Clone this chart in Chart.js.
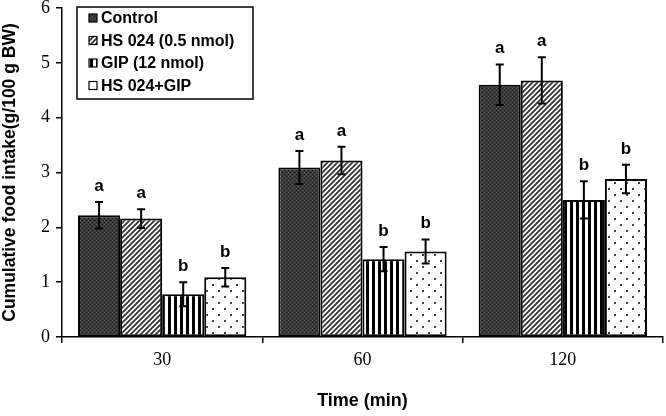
<!DOCTYPE html>
<html>
<head>
<meta charset="utf-8">
<script src="https://cdn.jsdelivr.net/npm/chart.js@4.4.1/dist/chart.umd.min.js"></script>
<style>
  html, body { margin: 0; padding: 0; background: #fff; }
  #wrap { width: 666px; height: 416px; }
</style>
</head>
<body>
<div id="wrap"><canvas id="foodChart" width="666" height="416"></canvas></div>
<script>
// ---------------- data ----------------
var timeLabels = ['30', '60', '120'];
var groupNames = ['Control', 'HS 024 (0.5 nmol)', 'GIP (12 nmol)', 'HS 024+GIP'];

var controlVals = [2.22, 3.09, 4.60];
var hs024Vals   = [2.16, 3.22, 4.68];
var gipVals     = [0.78, 1.42, 2.50];
var comboVals   = [1.09, 1.56, 2.88];

var controlErr = [0.24, 0.30, 0.37];
var hs024Err   = [0.17, 0.25, 0.42];
var gipErr     = [0.22, 0.22, 0.34];
var comboErr   = [0.17, 0.22, 0.26];

var sigLetters = ['a', 'a', 'b', 'b'];

// ---------------- fill patterns ----------------
function makeTile(w, h, draw) {
    var c = document.createElement('canvas');
    c.width = w; c.height = h;
    var g = c.getContext('2d');
    draw(g, w, h);
    return document.getElementById('foodChart').getContext('2d').createPattern(c, 'repeat');
}

var patControl = makeTile(4, 4, function(g) {
    g.fillStyle = '#3a3a3a'; g.fillRect(0, 0, 4, 4);
    g.fillStyle = '#555'; g.fillRect(0, 0, 1, 1); g.fillRect(2, 2, 1, 1);
    g.fillStyle = '#222'; g.fillRect(2, 0, 1, 1); g.fillRect(0, 2, 1, 1);
});

var patHatch = makeTile(5, 5, function(g) {
    g.fillStyle = '#fff'; g.fillRect(0, 0, 5, 5);
    g.strokeStyle = '#333'; g.lineWidth = 1.8;
    g.beginPath();
    g.moveTo(-1, 6); g.lineTo(6, -1);
    g.moveTo(-1, 1); g.lineTo(1, -1);
    g.moveTo(4, 6); g.lineTo(6, 4);
    g.stroke();
});

var patStripes = makeTile(6, 4, function(g) {
    g.fillStyle = '#fff'; g.fillRect(0, 0, 6, 4);
    g.fillStyle = '#000'; g.fillRect(0, 0, 3, 4);
});

var patDots = makeTile(12, 12, function(g) {
    g.fillStyle = '#fff'; g.fillRect(0, 0, 12, 12);
    g.fillStyle = '#444';
    g.fillRect(2, 2, 2, 2);
    g.fillRect(8, 8, 2, 2);
});

var fills = [patControl, patHatch, patStripes, patDots];
var allVals = [controlVals, hs024Vals, gipVals, comboVals];
var allErr = [controlErr, hs024Err, gipErr, comboErr];

// ---------------- error bars + letters ----------------
var errorBarPlugin = {
    id: 'errorBars',
    afterDatasetsDraw: function(chart) {
        var ctx = chart.ctx;
        var ys = chart.scales.y;
        ctx.save();
        chart.data.datasets.forEach(function(ds, di) {
            var meta = chart.getDatasetMeta(di);
            meta.data.forEach(function(bar, i) {
                var v = ds.data[i], e = allErr[di][i];
                var yTop = ys.getPixelForValue(v + e);
                var yBot = ys.getPixelForValue(v - e);
                ctx.strokeStyle = '#000';
                ctx.lineWidth = 2;
                ctx.beginPath();
                ctx.moveTo(bar.x, yTop); ctx.lineTo(bar.x, yBot);
                ctx.moveTo(bar.x - 4, yTop); ctx.lineTo(bar.x + 4, yTop);
                ctx.moveTo(bar.x - 4, yBot); ctx.lineTo(bar.x + 4, yBot);
                ctx.stroke();
                ctx.fillStyle = '#000';
                ctx.font = 'bold 17px "Liberation Sans", Arial, sans-serif';
                ctx.textAlign = 'center';
                ctx.textBaseline = 'alphabetic';
                ctx.fillText(sigLetters[di], bar.x, yTop - 11);
            });
        });
        ctx.restore();
    }
};

// ---------------- boxed legend in upper left ----------------
var boxLegendPlugin = {
    id: 'boxLegend',
    afterDraw: function(chart) {
        var ctx = chart.ctx;
        var x0 = 77, y0 = 7, w = 176, h = 92;
        ctx.save();
        ctx.fillStyle = '#fff';
        ctx.fillRect(x0, y0, w, h);
        ctx.strokeStyle = '#000';
        ctx.lineWidth = 1.5;
        ctx.strokeRect(x0, y0, w, h);
        ctx.font = 'bold 16px "Liberation Sans", Arial, sans-serif';
        ctx.textBaseline = 'middle';
        ctx.textAlign = 'left';
        chart.data.datasets.forEach(function(ds, i) {
            var cy = y0 + 11 + i * 22.5;
            ctx.fillStyle = ds.backgroundColor;
            ctx.fillRect(x0 + 12, cy - 4, 8, 8);
            ctx.strokeStyle = '#000';
            ctx.lineWidth = 1.2;
            ctx.strokeRect(x0 + 12, cy - 4, 8, 8);
            ctx.fillStyle = '#000';
            ctx.fillText(ds.label, x0 + 24, cy + 1);
        });
        ctx.restore();
    }
};

var datasets = groupNames.map(function(name, i) {
    return {
        label: name,
        data: allVals[i],
        backgroundColor: fills[i],
        borderColor: '#000',
        borderWidth: 2,
        borderSkipped: false,
        categoryPercentage: 0.84,
        barPercentage: 1.0
    };
});

new Chart(document.getElementById('foodChart'), {
    type: 'bar',
    data: { labels: timeLabels, datasets: datasets },
    options: {
        responsive: false,
        animation: false,
        layout: { padding: { top: 0, right: 3, left: 0, bottom: 0 } },
        plugins: {
            legend: { display: false },
            tooltip: { enabled: false }
        },
        scales: {
            x: {
                offset: true,
                border: { color: '#000', width: 1.5 },
                grid: { display: true, offset: true, drawOnChartArea: false, color: '#000', tickLength: 6, lineWidth: 1.5 },
                ticks: { color: '#000', padding: 6, font: { family: '"Liberation Serif", "Times New Roman", serif', size: 18 } },
                title: { display: true, text: 'Time (min)', color: '#000', padding: { top: 16 }, font: { family: '"Liberation Sans", Arial, sans-serif', size: 18, weight: 'bold' } },
                afterFit: function(s) { s.height = 79; }
            },
            y: {
                min: 0, max: 6,
                border: { color: '#000', width: 1.5 },
                grid: { display: true, drawOnChartArea: false, color: '#000', tickLength: 6, lineWidth: 1.5 },
                ticks: { stepSize: 1, color: '#000', padding: 6, font: { family: '"Liberation Serif", "Times New Roman", serif', size: 18 } },
                title: { display: true, text: 'Cumulative food intake(g/100 g BW)', color: '#000', padding: { top: 0, bottom: 2 }, font: { family: '"Liberation Sans", Arial, sans-serif', size: 17.5, weight: 'bold' } },
                afterFit: function(s) { s.width = 62; s.paddingTop = 8; s.paddingBottom = 0; }
            }
        }
    },
    plugins: [errorBarPlugin, boxLegendPlugin]
});
</script>
</body>
</html>
